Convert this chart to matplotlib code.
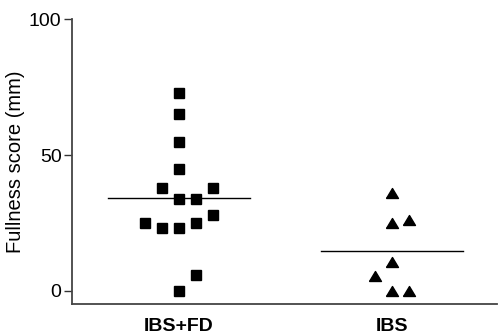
import matplotlib
matplotlib.use("Agg")
import matplotlib.pyplot as plt
import numpy as np

plt.rcParams['font.family'] = ['Liberation Sans', 'DejaVu Sans']

categories = ["IBS+FD", "IBS"]
ibs_fd = [73, 65, 55, 45, 38, 38, 34, 34, 28, 25, 25, 23, 23, 6, 0]
ibs = [36, 25, 26, 10.5, 5.5, 0, 0]
# horizontal column slots (beeswarm arrangement)
ibs_fd_slots = [0, 0, 0, 0, -1, 2, 0, 1, 2, -2, 1, -1, 0, 1, 0]
ibs_slots = [0, 0, 1, 0, -1, 0, 1]
yticks = [0, 50, 100]

fig = plt.figure(figsize=(5.04, 3.36), dpi=100)
ax = fig.add_axes([0.1429, 0.0952, 0.843, 0.8474])

step = 0.08
x1 = 1 + np.array(ibs_fd_slots) * step
x2 = 2 + np.array(ibs_slots) * step
ax.plot(x1, ibs_fd, linestyle='none', marker='s', markersize=7, color='black')
tri = [(-0.6, -0.5), (0.6, -0.5), (0.0, 0.5), (-0.6, -0.5)]
ax.plot(x2, ibs, linestyle='none', marker=tri, markersize=8.6, color='black')

hw = 0.333
for pos, vals in zip([1, 2], [ibs_fd, ibs]):
    m = np.mean(vals)
    ax.plot([pos - hw, pos + hw], [m, m], color='black', linewidth=1.0)

ax.set_xlim(0.5, 2.493)
ax.set_ylim(-4.8, 100)
ax.set_yticks(yticks)
ax.set_yticklabels([str(t) for t in yticks], fontsize=14)
ax.set_xticks([1, 2])
ax.set_xticklabels(categories, fontsize=14, fontweight='bold')
ax.tick_params(axis='x', length=0, pad=10)
ax.tick_params(axis='y', length=6, width=1.0, pad=1.5, color='#333333')
ax.set_ylabel("Fullness score (mm)", fontsize=14.5, labelpad=3)

for s in ['top', 'right']:
    ax.spines[s].set_visible(False)
for s in ['left', 'bottom']:
    ax.spines[s].set_color('#444444')
    ax.spines[s].set_linewidth(1.3)
ax.spines['left'].set_bounds(-4.8, 100)

fig.savefig("out.png", dpi=100)
